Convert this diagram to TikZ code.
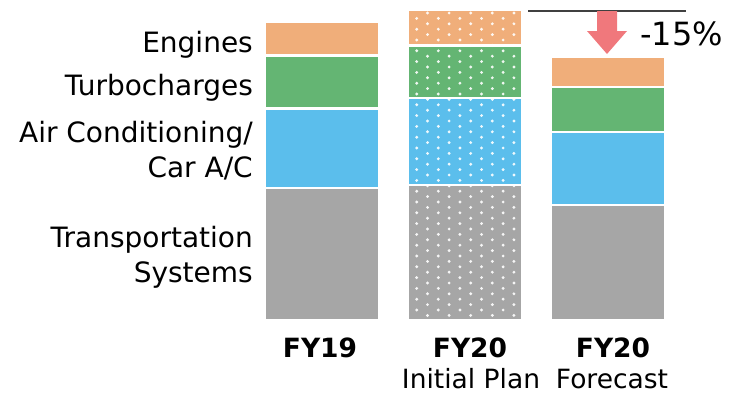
\documentclass[tikz,border=0pt]{standalone}
\usepackage{fontspec}
\setmainfont{DejaVu Sans}
\definecolor{engOrange}{RGB}{240,174,122}
\definecolor{turboGreen}{RGB}{100,181,115}
\definecolor{acBlue}{RGB}{91,190,236}
\definecolor{transGray}{RGB}{166,166,166}
\definecolor{dropRed}{RGB}{240,120,124}
\definecolor{ruleGray}{RGB}{64,64,64}
\tikzset{
  catlabel/.style={anchor=base east, inner sep=0pt, font=\fontsize{28}{28}\selectfont},
  yearlabel/.style={anchor=base, inner sep=0pt, font=\fontsize{26.5}{26.5}\selectfont\bfseries},
  sublabel/.style={anchor=base, inner sep=0pt, font=\fontsize{26.5}{26.5}\selectfont},
  dot/.style={fill=white, fill opacity=0.9},
}
\begin{document}
\begin{tikzpicture}[x=1pt, y=-1pt]
\useasboundingbox (0,0) rectangle (731,394);

% category labels
\node[catlabel] (lEng) at (253,52) {Engines};
\node[catlabel] (lTurbo) at (253,95) {Turbocharges};
\node[catlabel] (lAC1) at (253,142) {Air Conditioning/};
\node[catlabel] (lAC2) at (253,177) {Car A/C};
\node[catlabel] (lTr1) at (253,247) {Transportation};
\node[catlabel] (lTr2) at (253,282) {Systems};

% FY19 bar
\fill[engOrange]  (266,23)  rectangle (378,54);
\fill[turboGreen] (266,57)  rectangle (378,107);
\fill[acBlue]     (266,110) rectangle (378,187);
\fill[transGray]  (266,189) rectangle (378,319);

% FY20 initial plan bar (dotted)
\fill[engOrange]  (409,11)  rectangle (521,44);
\fill[turboGreen] (409,47)  rectangle (521,97);
\fill[acBlue]     (409,99)  rectangle (521,184);
\fill[transGray]  (409,186) rectangle (521,319);
\begin{scope}
  \clip (409,11) rectangle (521,319);
  \foreach \k in {0,...,57} {
    \pgfmathsetmacro\yy{13+5.4*\k}
    \pgfmathsetmacro\off{mod(\k,2)*10.8}
    \foreach \j in {0,...,5} {
      \fill[dot] ({405.9+\off+21.6*\j},\yy) circle (1.6);
    }
  }
\end{scope}

% FY20 forecast bar
\fill[engOrange]  (552,58)  rectangle (664,86);
\fill[turboGreen] (552,88)  rectangle (664,131);
\fill[acBlue]     (552,133) rectangle (664,204);
\fill[transGray]  (552,206) rectangle (664,319);

% reduction marker
\coordinate (ruleL) at (528,11);
\coordinate (ruleR) at (686,11);
\draw[ruleGray, line width=1.4] (ruleL) -- (ruleR);
\fill[dropRed] (597,11) -- (617,11) -- (617,31) -- (627,31) -- (607,54)
  -- (587,31) -- (597,31) -- cycle;
\node[anchor=base west, inner sep=0pt, font=\fontsize{32}{32}\selectfont]
  (drop) at (640,45) {-15\%};

% year labels
\node[yearlabel] (y19) at (320,357) {FY19};
\node[yearlabel] (y20a) at (470,357) {FY20};
\node[yearlabel] (y20b) at (613,357) {FY20};
\node[sublabel] (sPlan) at (471,388) {Initial Plan};
\node[sublabel] (sFc) at (612,388) {Forecast};
\end{tikzpicture}
\end{document}
